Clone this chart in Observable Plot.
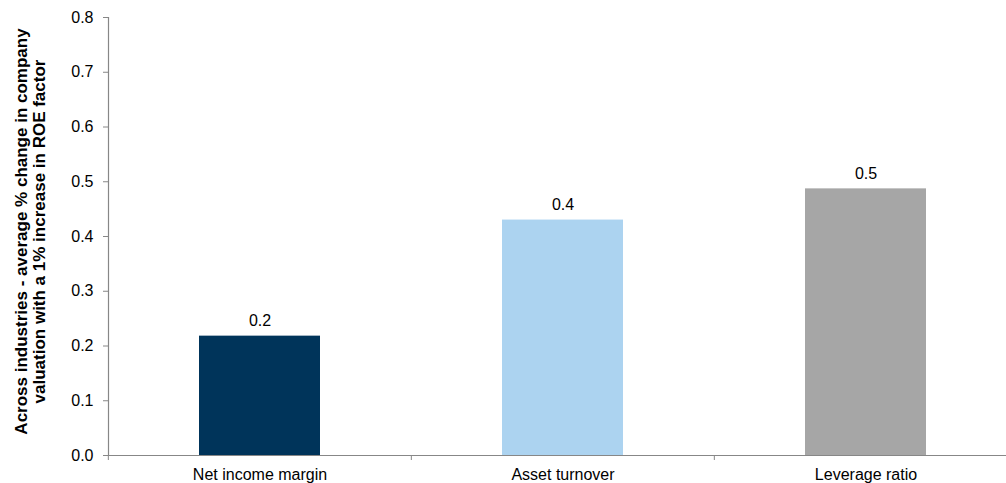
<!DOCTYPE html>
<html>
<head>
<meta charset="utf-8">
<script src="https://cdn.jsdelivr.net/npm/d3@7"></script>
<script src="https://cdn.jsdelivr.net/npm/@observablehq/plot@0.6"></script>
<style>
  html, body { margin: 0; padding: 0; background: #fff; }
  #chart svg { display: block; }
</style>
</head>
<body>
<div id="chart"></div>
<script>
// Sensitivity of company valuation to each ROE factor
const categories = ["Net income margin", "Asset turnover", "Leverage ratio"];
const values = [0.218, 0.43, 0.487];
const barColors = ["#00345a", "#acd3f0", "#a6a6a6"];
const yTicks = [0, 0.1, 0.2, 0.3, 0.4, 0.5, 0.6, 0.7, 0.8];
const yTitle = "Across industries - average % change in company\nvaluation with a 1% increase in ROE factor";

const data = categories.map((category, i) => ({category, value: values[i]}));
const fmt = d3.format(".1f");
const axisGrey = "#878787";

const xRange = [108, 1018];
const paddingInner = 0.6, paddingOuter = 0.3;
const step = (xRange[1] - xRange[0]) / (categories.length - paddingInner + 2 * paddingOuter);

const chart = Plot.plot({
  width: 1006,
  height: 483,
  marginLeft: 108,
  marginRight: 0,
  marginTop: 17,
  marginBottom: 28,
  style: {fontFamily: "'Liberation Sans', Arial, sans-serif", fontSize: "16px", color: "#000", background: "#fff"},
  x: {domain: categories, range: xRange, paddingInner, paddingOuter},
  y: {domain: [0, 0.8]},
  color: {domain: categories, range: barColors},
  marks: [
    Plot.barY(data, {x: "category", y: "value", fill: "category"}),
    Plot.text(data, {x: "category", y: "value", text: d => fmt(d.value), lineAnchor: "bottom", dy: -10, fontSize: 16}),
    Plot.ruleY([0], {stroke: axisGrey, strokeWidth: 1.2}),
    Plot.frame({anchor: "left", stroke: axisGrey, strokeWidth: 1.2}),
    Plot.axisY({ticks: yTicks, tickFormat: fmt, tickSize: 5, tickPadding: 10, stroke: axisGrey, fontSize: 16, label: null}),
    // category separators sit on the band edges, half a step left of each band centre
    Plot.axisX({tickSize: 5, dx: -step / 2, tickFormat: () => "", stroke: axisGrey, label: null}),
    Plot.axisX({tickSize: 0, tickPadding: 13, fontSize: 16, label: null}),
    Plot.text([yTitle], {frameAnchor: "left", textAnchor: "middle", dx: -78, dy: -5, rotate: -90, fontWeight: "bold", fontSize: 17, lineHeight: 1.06})
  ]
});

document.getElementById("chart").append(chart);
</script>
</body>
</html>
